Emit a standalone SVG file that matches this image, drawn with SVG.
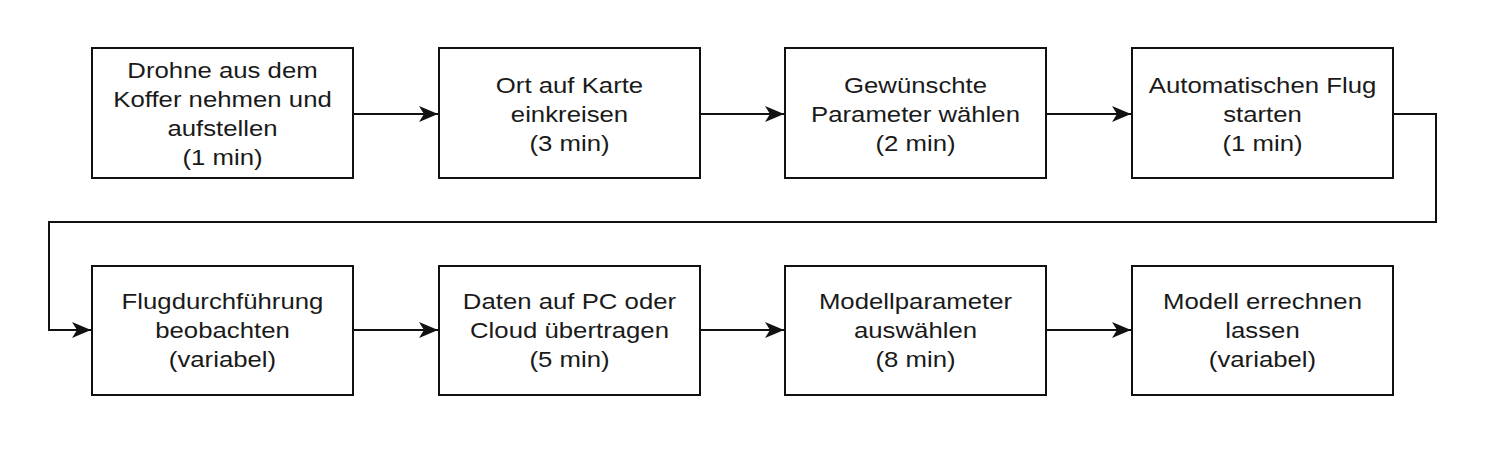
<svg xmlns="http://www.w3.org/2000/svg" width="1499" height="450" viewBox="0 0 1499 450">
<style>
.box{fill:#fff;stroke:#111;stroke-width:2}
.t{font-family:"Liberation Sans",Arial,sans-serif;font-size:23px;fill:#1a1a1a;text-anchor:middle}
.c{fill:none;stroke:#111;stroke-width:2}
</style>
<defs>
<marker id="a" markerWidth="20" markerHeight="16" refX="19" refY="8" orient="auto" markerUnits="userSpaceOnUse">
<path d="M0,0 L19,8 L0,16 L5,8 Z" fill="#111"/>
</marker>
</defs>
<rect width="1499" height="450" fill="#fff"/>
<g id="connectors">
<path class="c" d="M353,114 H438" marker-end="url(#a)"/>
<path class="c" d="M700,114 H784" marker-end="url(#a)"/>
<path class="c" d="M1046,114 H1131" marker-end="url(#a)"/>
<path class="c" d="M1393,114 H1436 V222 H49 V330 H91" marker-end="url(#a)"/>
<path class="c" d="M353,330 H438" marker-end="url(#a)"/>
<path class="c" d="M700,330 H784" marker-end="url(#a)"/>
<path class="c" d="M1046,330 H1131" marker-end="url(#a)"/>
</g>
<g id="n1"><rect class="box" x="92" y="48" width="261" height="130"/>
<g transform="translate(222.5,0) scale(1.12,1)"><text class="t" x="0" y="78">Drohne aus dem</text><text class="t" x="0" y="107">Koffer nehmen und</text><text class="t" x="0" y="136">aufstellen</text><text class="t" x="0" y="165">(1 min)</text></g></g>
<g id="n2"><rect class="box" x="439" y="48" width="261" height="130"/>
<g transform="translate(569.5,0) scale(1.12,1)"><text class="t" x="0" y="93">Ort auf Karte</text><text class="t" x="0" y="122">einkreisen</text><text class="t" x="0" y="151">(3 min)</text></g></g>
<g id="n3"><rect class="box" x="785" y="48" width="261" height="130"/>
<g transform="translate(915.5,0) scale(1.12,1)"><text class="t" x="0" y="93">Gewünschte</text><text class="t" x="0" y="122">Parameter wählen</text><text class="t" x="0" y="151">(2 min)</text></g></g>
<g id="n4"><rect class="box" x="1132" y="48" width="261" height="130"/>
<g transform="translate(1262.5,0) scale(1.12,1)"><text class="t" x="0" y="93">Automatischen Flug</text><text class="t" x="0" y="122">starten</text><text class="t" x="0" y="151">(1 min)</text></g></g>
<g id="n5"><rect class="box" x="92" y="266" width="261" height="129"/>
<g transform="translate(222.5,0) scale(1.12,1)"><text class="t" x="0" y="309">Flugdurchführung</text><text class="t" x="0" y="338">beobachten</text><text class="t" x="0" y="367">(variabel)</text></g></g>
<g id="n6"><rect class="box" x="439" y="266" width="261" height="129"/>
<g transform="translate(569.5,0) scale(1.12,1)"><text class="t" x="0" y="309">Daten auf PC oder</text><text class="t" x="0" y="338">Cloud übertragen</text><text class="t" x="0" y="367">(5 min)</text></g></g>
<g id="n7"><rect class="box" x="785" y="266" width="261" height="129"/>
<g transform="translate(915.5,0) scale(1.12,1)"><text class="t" x="0" y="309">Modellparameter</text><text class="t" x="0" y="338">auswählen</text><text class="t" x="0" y="367">(8 min)</text></g></g>
<g id="n8"><rect class="box" x="1132" y="266" width="261" height="129"/>
<g transform="translate(1262.5,0) scale(1.12,1)"><text class="t" x="0" y="309">Modell errechnen</text><text class="t" x="0" y="338">lassen</text><text class="t" x="0" y="367">(variabel)</text></g></g>
</svg>
